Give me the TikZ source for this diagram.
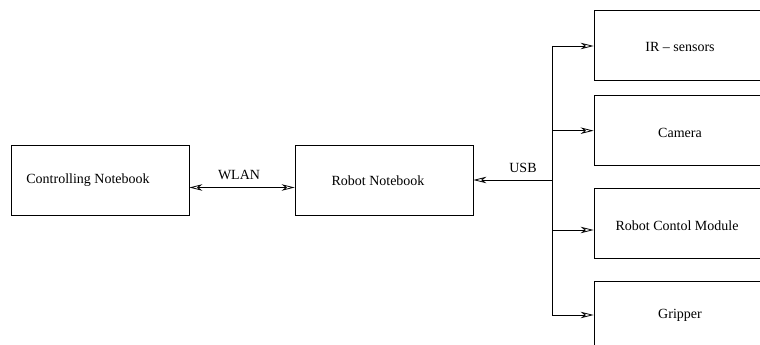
\documentclass[tikz,border=0pt]{standalone}
\usepackage{fontspec}
\setmainfont{Liberation Serif}
\usetikzlibrary{arrows.meta}
\tikzset{
  box/.style={draw, line width=0.8pt, minimum height=70pt, inner sep=0pt},
  txt/.style={font=\fontsize{14}{16}\selectfont},
  conn/.style={line width=0.8pt},
  tip/.style={-{Stealth[open,length=13pt,width=6.5pt,inset=4pt]}},
  tips/.style={{Stealth[open,length=13pt,width=6.5pt,inset=4pt]}-{Stealth[open,length=13pt,width=6.5pt,inset=4pt]}}
}
\begin{document}
\begin{tikzpicture}[x=1pt,y=-1pt]
\clip (0,0) rectangle (760,345);
\fill[white] (0,0) rectangle (760,345);
% left boxes
\node[box, minimum width=178pt, label={[txt,xshift=-12pt]center:Controlling Notebook}] (cn) at (100,180.5) {};
\node[box, minimum width=178pt, label={[txt,xshift=-6pt]center:Robot Notebook}] (rn) at (384,180.5) {};
% right boxes
\node[box, minimum width=196pt, label={[txt,xshift=-12pt,yshift=-1pt]center:IR -- sensors}] (ir) at (692,45.5) {};
\node[box, minimum width=196pt, label={[txt,xshift=-12pt,yshift=-2pt]center:Camera}] (cam) at (692,130.7) {};
\node[box, minimum width=196pt, label={[txt,xshift=-15pt,yshift=-3pt]center:Robot Contol Module}] (rcm) at (692,223.2) {};
\node[box, minimum width=196pt, label={[txt,xshift=-12pt,yshift=1pt]center:Gripper}] (grip) at (692,316) {};
% labels
\node[txt] (wlan) at (239,175) {WLAN};
\node[txt] (usb) at (523,168) {USB};
% connectors
\draw[conn,tips] (cn.east |- 0,187.5) -- (rn.west |- 0,187.5);
\coordinate (b1) at (552,46);
\coordinate (b2) at (552,130.7);
\coordinate (bu) at (552,180);
\coordinate (b3) at (552,230);
\coordinate (b4) at (552,315);
\draw[conn] (b1) -- (b4);
\draw[conn,tip] (b1) -- (b1 -| ir.west);
\draw[conn,tip] (b2) -- (b2 -| cam.west);
\draw[conn,tip] (b3) -- (b3 -| rcm.west);
\draw[conn,tip] (b4) -- (b4 -| grip.west);
\draw[conn,tip] (bu) -- (bu -| rn.east);
\end{tikzpicture}
\end{document}
